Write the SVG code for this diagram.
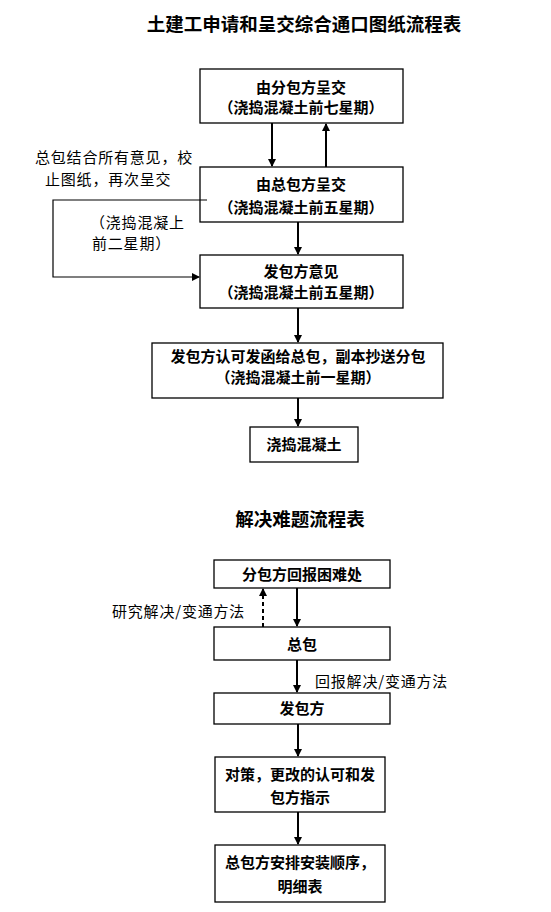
<svg xmlns="http://www.w3.org/2000/svg" width="551" height="912" viewBox="0 0 551 912">
<style>
.box{fill:#fff;stroke:#000;stroke-width:1.3}
.t{font-family:"Noto Sans CJK SC","Noto Sans CJK JP",sans-serif;font-size:15px;font-weight:bold;text-anchor:middle;fill:#000}
.title{font-family:"Noto Sans CJK SC","Noto Sans CJK JP",sans-serif;font-size:18.5px;font-weight:bold;text-anchor:middle;fill:#000}
.lbl{font-family:"Noto Sans CJK SC","Noto Sans CJK JP",sans-serif;font-size:15px;fill:#000;letter-spacing:0.8px}
.ln{fill:none;stroke:#000;stroke-width:2}
.thin{fill:none;stroke:#000;stroke-width:1.2}
.dash{fill:none;stroke:#000;stroke-width:2;stroke-dasharray:4 3}
</style>
<defs>
<marker id="ah" markerWidth="8" markerHeight="8" refX="7" refY="4" orient="auto" markerUnits="userSpaceOnUse">
<path d="M0,0 L8,4 L0,8 Z" fill="#000"/>
</marker>
</defs>
<rect width="551" height="912" fill="#fff"/>
<text class="title" x="304" y="31">土建工申请和呈交综合通口图纸流程表</text>
<text class="title" x="300" y="526">解决难题流程表</text>

<g id="n1"><rect class="box" x="200" y="69" width="203" height="54"/>
<text class="t" x="301" y="93">由分包方呈交</text><text class="t" x="301" y="113">（浇捣混凝土前七星期）</text></g>
<g id="n2"><rect class="box" x="200" y="167" width="203" height="55"/>
<text class="t" x="301" y="190">由总包方呈交</text><text class="t" x="301" y="213">（浇捣混凝土前五星期）</text></g>
<g id="n3"><rect class="box" x="200" y="255" width="203" height="53"/>
<text class="t" x="301" y="277">发包方意见</text><text class="t" x="301" y="298">（浇捣混凝土前五星期）</text></g>
<g id="n4"><rect class="box" x="152" y="343" width="291" height="55"/>
<text class="t" x="298" y="362">发包方认可发函给总包，副本抄送分包</text><text class="t" x="298" y="383">（浇捣混凝土前一星期）</text></g>
<g id="n5"><rect class="box" x="250" y="427" width="108" height="35"/>
<text class="t" x="304" y="450">浇捣混凝土</text></g>

<g id="m1"><rect class="box" x="214" y="560" width="176" height="28"/>
<text class="t" x="302" y="580">分包方回报困难处</text></g>
<g id="m2"><rect class="box" x="214" y="627" width="176" height="33"/>
<text class="t" x="302" y="650">总包</text></g>
<g id="m3"><rect class="box" x="214" y="693" width="176" height="31"/>
<text class="t" x="302" y="714">发包方</text></g>
<g id="m4"><rect class="box" x="215" y="757" width="170" height="55"/>
<text class="t" x="300" y="780">对策，更改的认可和发</text><text class="t" x="300" y="803">包方指示</text></g>
<g id="m5"><rect class="box" x="215" y="845" width="170" height="57"/>
<text class="t" x="300" y="868">总包方安排安装顺序，</text><text class="t" x="300" y="892">明细表</text></g>

<g id="labels">
<text class="lbl" x="35" y="163">总包结合所有意见，校</text>
<text class="lbl" x="45" y="185">止图纸，再次呈交</text>
<text class="lbl" x="90" y="228">（浇捣混凝上</text>
<text class="lbl" x="92" y="249">前二星期）</text>
<text class="lbl" x="112" y="617">研究解决/变通方法</text>
<text class="lbl" x="315" y="687">回报解决/变通方法</text>
</g>

<g id="connectors">
<line class="ln" x1="272" y1="123" x2="272" y2="166" marker-end="url(#ah)"/>
<line class="ln" x1="326" y1="167" x2="326" y2="124" marker-end="url(#ah)"/>
<line class="ln" x1="298" y1="222" x2="298" y2="254" marker-end="url(#ah)"/>
<line class="ln" x1="298" y1="308" x2="298" y2="342" marker-end="url(#ah)"/>
<line class="ln" x1="298" y1="398" x2="298" y2="426" marker-end="url(#ah)"/>
<polyline class="thin" points="207,200 53,200 53,277 199,277" marker-end="url(#ah)"/>
<line class="ln" x1="297" y1="588" x2="297" y2="626" marker-end="url(#ah)"/>
<line class="dash" x1="263" y1="627" x2="263" y2="589" marker-end="url(#ah)"/>
<line class="ln" x1="297" y1="660" x2="297" y2="692" marker-end="url(#ah)"/>
<line class="ln" x1="298" y1="724" x2="298" y2="756" marker-end="url(#ah)"/>
<line class="ln" x1="298" y1="812" x2="298" y2="844" marker-end="url(#ah)"/>
</g>
</svg>
